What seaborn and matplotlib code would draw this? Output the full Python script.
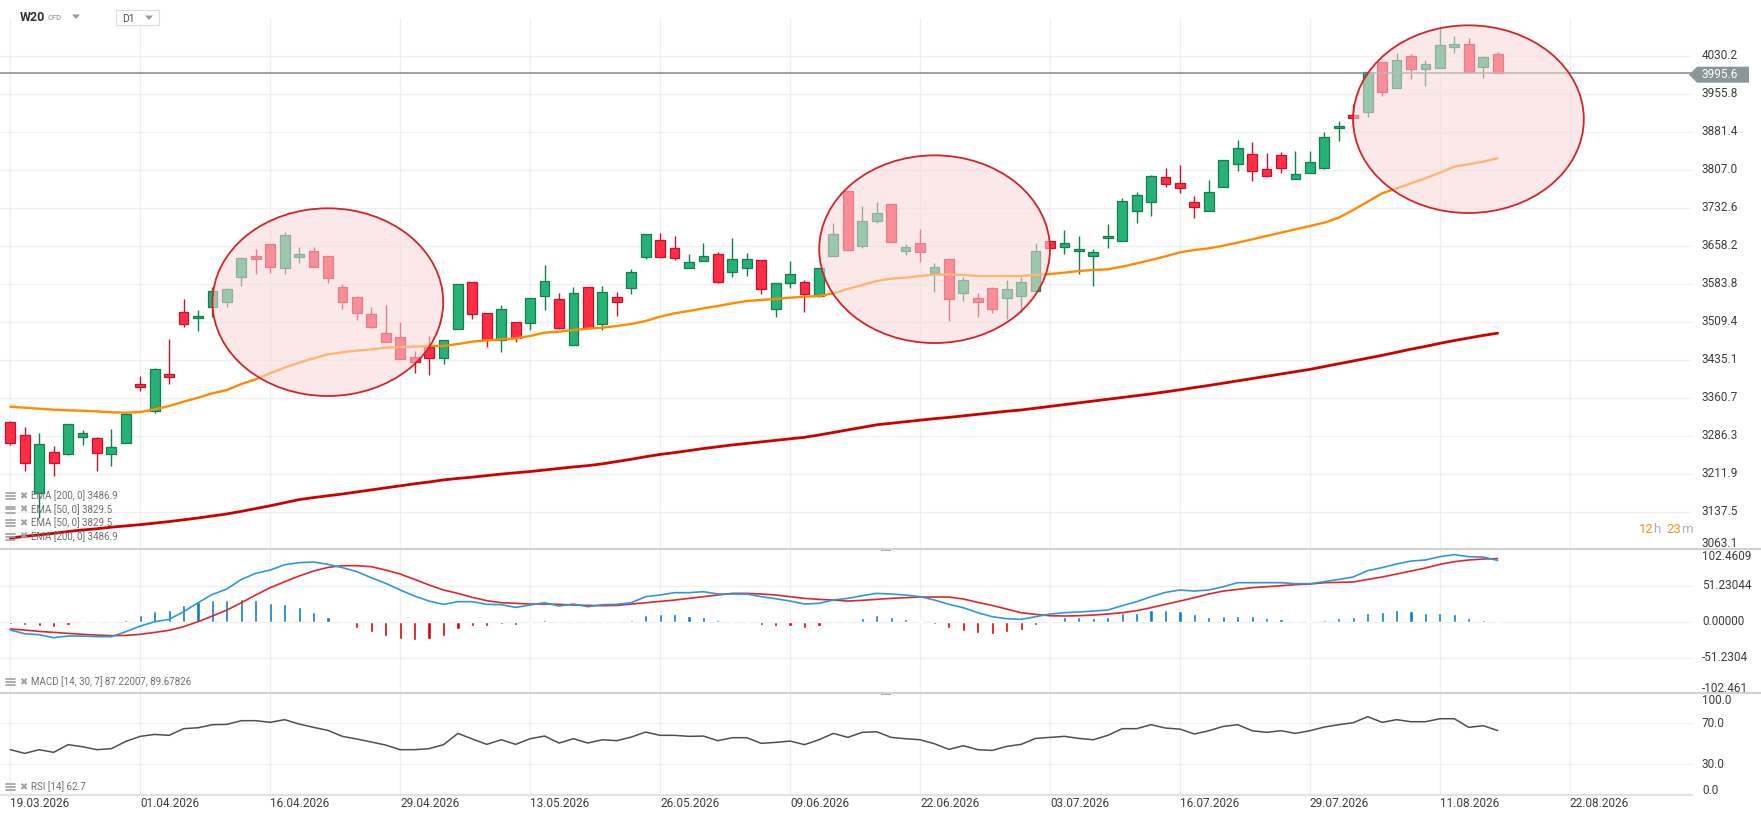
import numpy as np
import matplotlib
matplotlib.use("Agg")
import matplotlib.pyplot as plt
import seaborn as sns
from matplotlib.patches import Ellipse, Polygon, Rectangle
from matplotlib.lines import Line2D

# ---------------- data ----------------
opens = [3313.6, 3286.9, 3173.3, 3253.6, 3249.6, 3282.9, 3281.0, 3249.6, 3272.5, 3386.7,
         3334.5, 3406.3, 3527.7, 3515.9, 3538.8, 3548.6, 3597.5, 3638.0, 3660.8, 3615.2,
         3636.7, 3647.1, 3637.3, 3576.6, 3557.1, 3523.8, 3486.6, 3478.7, 3439.6, 3460.5,
         3437.6, 3494.4, 3587.7, 3525.7, 3473.5, 3509.4, 3506.2, 3559.7, 3553.2, 3463.7,
         3576.6, 3504.2, 3557.1, 3574.7, 3636.7, 3669.3, 3653.0, 3613.8, 3628.9, 3641.3,
         3607.3, 3613.8, 3629.5, 3533.6, 3584.5, 3586.4, 3559.7, 3638.6, 3765.3, 3658.2,
         3707.2, 3739.2, 3648.4, 3662.8, 3605.4, 3631.5, 3566.2, 3555.1, 3574.7, 3555.1,
         3559.7, 3570.1, 3666.7, 3655.0, 3647.8, 3637.3, 3672.6, 3666.7, 3726.1, 3743.1,
         3792.0, 3781.6, 3743.1, 3726.8, 3772.5, 3817.5, 3837.1, 3807.7, 3835.1, 3788.1,
         3801.2, 3811.0, 3888.0, 3913.4, 3920.6, 4017.2, 3967.6, 4029.0, 4003.5, 4005.5,
         4046.6, 4052.5, 4007.4, 4032.9]
highs = [3315.6, 3302.5, 3290.8, 3265.9, 3309.0, 3297.3, 3284.2, 3298.6, 3329.9, 3403.0,
         3418.0, 3475.5, 3553.8, 3532.3, 3577.9, 3574.7, 3633.4, 3651.0, 3660.8, 3684.4,
         3655.0, 3655.0, 3637.3, 3583.2, 3559.7, 3537.5, 3542.0, 3508.1, 3452.0, 3481.3,
         3472.9, 3582.5, 3587.7, 3525.7, 3542.0, 3509.4, 3555.1, 3620.4, 3564.9, 3576.6,
         3576.6, 3579.2, 3566.9, 3611.9, 3680.4, 3682.4, 3677.2, 3641.3, 3662.8, 3645.2,
         3673.2, 3643.2, 3629.5, 3584.5, 3628.2, 3591.0, 3613.8, 3702.0, 3765.3, 3735.9,
         3743.7, 3739.2, 3660.8, 3690.9, 3624.9, 3633.4, 3597.5, 3564.9, 3577.9, 3591.0,
         3597.5, 3662.8, 3666.7, 3688.9, 3677.2, 3651.7, 3700.7, 3750.9, 3763.3, 3796.6,
         3809.7, 3816.2, 3755.5, 3786.8, 3825.3, 3865.1, 3860.6, 3839.0, 3841.0, 3843.6,
         3843.6, 3880.1, 3902.3, 3935.0, 3998.3, 4017.2, 4034.8, 4033.5, 4021.8, 4083.8,
         4068.8, 4064.2, 4029.6, 4036.8]
lows = [3267.9, 3217.7, 3124.3, 3207.2, 3249.0, 3267.9, 3217.7, 3227.5, 3271.2, 3374.3,
        3329.9, 3387.4, 3499.6, 3491.1, 3517.9, 3538.8, 3579.2, 3602.7, 3605.4, 3602.7,
        3624.9, 3617.1, 3585.8, 3534.2, 3512.7, 3496.4, 3470.3, 3435.7, 3409.6, 3405.0,
        3425.9, 3494.4, 3514.6, 3460.5, 3450.7, 3470.3, 3493.1, 3532.3, 3494.4, 3463.7,
        3497.7, 3493.1, 3521.2, 3563.6, 3631.5, 3636.7, 3630.2, 3613.8, 3628.9, 3584.5,
        3597.5, 3599.5, 3563.6, 3519.2, 3574.7, 3529.0, 3557.1, 3638.6, 3649.7, 3654.3,
        3703.3, 3664.8, 3640.0, 3626.9, 3568.2, 3511.4, 3549.9, 3519.2, 3527.0, 3514.6,
        3529.0, 3570.1, 3653.0, 3641.9, 3602.7, 3579.2, 3654.3, 3666.7, 3703.3, 3717.0,
        3773.8, 3760.7, 3713.0, 3726.8, 3772.5, 3805.1, 3785.5, 3792.0, 3799.9, 3788.1,
        3801.2, 3807.7, 3863.8, 3891.2, 3910.8, 3952.0, 3966.3, 3984.6, 3971.5, 4005.5,
        4034.8, 3997.0, 3987.2, 3995.6]
closes = [3272.5, 3233.3, 3269.2, 3232.0, 3308.4, 3290.8, 3251.6, 3263.3, 3328.0, 3382.1,
          3416.1, 3401.7, 3504.2, 3520.5, 3568.8, 3572.8, 3633.4, 3631.5, 3617.1, 3678.5,
          3641.3, 3617.1, 3594.3, 3548.6, 3527.0, 3499.6, 3470.3, 3435.7, 3431.1, 3438.9,
          3472.9, 3582.5, 3523.8, 3473.5, 3533.6, 3478.1, 3555.1, 3589.7, 3497.7, 3564.9,
          3497.7, 3566.9, 3548.6, 3606.0, 3680.4, 3636.7, 3634.7, 3625.6, 3637.3, 3587.7,
          3631.5, 3631.5, 3572.7, 3584.5, 3602.1, 3563.0, 3613.8, 3680.4, 3649.7, 3706.5,
          3721.5, 3664.8, 3656.3, 3645.2, 3615.8, 3553.2, 3590.4, 3547.3, 3533.6, 3572.7,
          3586.4, 3647.1, 3653.0, 3662.8, 3651.7, 3645.2, 3676.5, 3745.0, 3756.8, 3794.0,
          3778.3, 3770.5, 3734.6, 3762.7, 3825.3, 3848.8, 3805.1, 3795.3, 3809.7, 3797.9,
          3822.7, 3870.3, 3891.9, 3907.6, 3998.3, 3959.8, 4021.1, 4003.5, 4013.3, 4050.5,
          4053.1, 3998.9, 4027.0, 3995.6]

ema50 = [3343.0, 3341.0, 3339.0, 3337.1, 3335.8, 3335.1, 3333.8, 3331.9, 3331.2, 3332.5,
         3337.7, 3344.3, 3352.8, 3360.6, 3369.1, 3375.6, 3387.4, 3396.5, 3408.3, 3419.4,
         3429.2, 3437.6, 3445.5, 3449.4, 3452.7, 3455.2, 3458.5, 3459.8, 3460.5, 3461.8,
         3461.8, 3465.7, 3470.3, 3472.9, 3474.8, 3476.8, 3481.4, 3487.9, 3489.8, 3493.1,
         3495.7, 3497.7, 3500.9, 3504.9, 3510.7, 3519.2, 3525.7, 3530.3, 3535.5, 3540.1,
         3545.3, 3549.9, 3551.9, 3553.8, 3556.4, 3558.4, 3559.7, 3564.9, 3573.4, 3581.2,
         3589.0, 3593.6, 3595.6, 3598.8, 3601.4, 3602.1, 3600.8, 3598.8, 3598.8, 3598.8,
         3598.8, 3600.8, 3602.7, 3605.4, 3608.6, 3610.6, 3611.9, 3617.1, 3623.6, 3630.2,
         3637.3, 3645.2, 3649.7, 3653.0, 3658.2, 3664.1, 3670.6, 3677.2, 3683.7, 3690.2,
         3696.8, 3703.3, 3713.1, 3728.1, 3744.4, 3760.7, 3770.5, 3780.3, 3790.1, 3801.2,
         3812.9, 3817.5, 3822.7, 3829.5]
ema200 = [3085.9, 3089.0, 3092.0, 3095.0, 3098.5, 3101.5, 3104.0, 3107.0, 3109.5, 3112.0,
          3115.0, 3118.0, 3121.5, 3125.0, 3129.0, 3133.0, 3138.0, 3143.5, 3149.0, 3155.0,
          3161.0, 3165.0, 3168.5, 3172.0, 3176.0, 3180.0, 3184.0, 3188.0, 3192.0, 3195.5,
          3199.5, 3202.5, 3205.0, 3208.0, 3211.0, 3213.5, 3216.0, 3219.0, 3222.0, 3225.0,
          3227.5, 3231.0, 3235.5, 3240.0, 3245.0, 3249.5, 3253.0, 3257.0, 3261.0, 3264.5,
          3268.0, 3271.0, 3274.0, 3277.0, 3280.0, 3283.0, 3287.5, 3292.5, 3297.5, 3302.5,
          3307.5, 3310.5, 3313.5, 3316.5, 3319.5, 3322.0, 3325.0, 3328.0, 3331.0, 3334.0,
          3336.5, 3340.0, 3343.5, 3347.0, 3350.5, 3354.0, 3357.5, 3361.0, 3364.5, 3368.0,
          3372.0, 3376.0, 3380.5, 3384.5, 3389.0, 3393.5, 3398.0, 3402.5, 3407.0, 3411.5,
          3416.0, 3421.5, 3427.0, 3432.5, 3438.0, 3443.5, 3449.5, 3455.5, 3461.0, 3467.0,
          3472.5, 3477.5, 3482.5, 3486.9]

macd_line = [-11.9, -17.1, -18.5, -22.8, -20.4, -20.4, -21.3, -21.3, -14.2, -6.2,
             0.0, 3.3, 14.2, 27.0, 38.9, 46.5, 60.2, 68.8, 73.5, 81.1,
             84.0, 84.9, 81.6, 76.9, 71.2, 62.6, 54.6, 45.1, 36.5, 29.4,
             24.7, 28.5, 28.5, 24.7, 24.2, 20.4, 23.7, 27.0, 22.3, 25.1,
             21.3, 24.2, 24.7, 27.0, 35.6, 38.0, 41.3, 41.3, 42.7, 39.4,
             39.4, 39.4, 35.6, 32.7, 29.4, 25.1, 26.1, 30.8, 33.2, 37.0,
             40.3, 39.4, 38.0, 35.6, 30.8, 24.7, 19.9, 12.8, 7.1, 4.3,
             3.3, 7.1, 10.9, 12.8, 13.8, 15.2, 16.6, 22.8, 28.5, 35.6,
             41.7, 45.1, 43.6, 45.1, 49.8, 55.5, 55.5, 55.5, 55.5, 54.1,
             54.1, 56.9, 60.2, 63.6, 72.6, 76.9, 82.1, 86.3, 87.8, 92.5,
             95.4, 92.5, 92.0, 87.2]
macd_signal = [-10.4, -11.9, -13.8, -15.2, -16.6, -18.0, -19.0, -19.9, -19.5, -18.0,
               -15.2, -12.3, -7.1, 0.0, 8.1, 16.6, 27.0, 38.0, 48.4, 56.9,
               65.0, 72.1, 77.3, 79.7, 79.7, 78.3, 73.5, 67.8, 60.2, 52.2,
               45.1, 40.3, 34.6, 29.9, 27.0, 26.1, 25.1, 25.1, 24.7, 23.7,
               23.2, 22.8, 23.2, 25.1, 27.0, 28.9, 30.8, 33.2, 35.6, 38.0,
               40.3, 40.3, 39.4, 38.0, 35.6, 33.2, 31.8, 30.8, 29.4, 30.4,
               31.8, 33.2, 34.2, 35.1, 35.1, 35.1, 32.3, 27.5, 23.2, 18.0,
               12.8, 10.4, 8.5, 8.1, 8.5, 9.5, 10.9, 12.8, 15.7, 19.9,
               24.7, 29.4, 34.2, 39.4, 43.6, 46.0, 48.4, 49.8, 51.2, 52.7,
               53.6, 55.5, 56.0, 56.5, 60.2, 63.6, 67.8, 72.1, 76.4, 81.6,
               85.4, 87.8, 89.2, 89.7]
macd_hist = [-3.8, -4.7, -5.7, -7.1, -4.3, -1.9, -1.4, -1.4, 2.4, 9.5,
             15.7, 16.6, 23.7, 28.5, 30.8, 30.8, 32.3, 30.8, 27.0, 25.1,
             21.3, 14.2, 6.2, -1.4, -8.5, -14.2, -19.9, -24.2, -26.1, -24.2,
             -20.4, -10.4, -6.2, -5.7, -3.3, -4.3, -1.4, 2.4, -0.5, 1.0,
             -1.0, 1.0, 0.5, 2.4, 9.5, 10.9, 10.9, 8.1, 6.2, 2.4,
             1.0, 0.3, -4.7, -6.2, -6.2, -8.5, -6.2, -0.3, 1.0, 4.7,
             9.5, 6.2, 3.3, 1.0, -3.8, -9.5, -12.8, -15.7, -17.6, -14.2,
             -11.9, -4.7, 1.0, 6.2, 7.1, 5.7, 7.1, 11.9, 12.8, 16.6,
             17.1, 15.2, 10.9, 7.1, 8.5, 8.1, 8.1, 5.2, 3.8, 1.0,
             0.3, 2.4, 4.7, 6.2, 11.9, 13.3, 16.6, 15.2, 12.8, 12.8,
             10.9, 5.2, 2.4, -1.4]
rsi = [44.0, 40.4, 44.0, 41.4, 48.9, 46.9, 44.0, 45.0, 52.1, 57.0,
       58.9, 58.0, 64.5, 65.4, 68.4, 68.7, 72.3, 72.3, 70.7, 73.3,
       69.0, 65.8, 62.8, 57.0, 54.4, 51.5, 48.5, 44.0, 44.0, 45.0,
       48.9, 59.9, 54.4, 49.2, 53.7, 49.2, 54.7, 57.3, 50.5, 54.7,
       50.5, 53.7, 52.8, 56.3, 61.2, 58.0, 58.0, 57.0, 57.3, 52.8,
       55.7, 55.7, 50.2, 51.1, 52.4, 48.9, 53.7, 59.9, 56.0, 60.9,
       61.5, 56.0, 54.7, 53.7, 49.8, 44.3, 47.9, 44.0, 43.3, 47.2,
       49.2, 55.0, 56.0, 57.0, 55.0, 53.7, 58.0, 64.5, 64.5, 68.4,
       65.1, 64.1, 59.3, 62.5, 66.7, 68.4, 62.5, 60.9, 62.5, 59.9,
       62.5, 66.1, 68.4, 70.3, 76.2, 70.7, 73.3, 71.3, 71.3, 74.2,
       74.2, 65.8, 67.4, 62.7]

date_positions = [0, 9, 18, 27, 36, 45, 54, 63, 72, 81, 90, 99, 108]
date_labels = ["19.03.2026", "01.04.2026", "16.04.2026", "29.04.2026", "13.05.2026",
               "26.05.2026", "09.06.2026", "22.06.2026", "03.07.2026", "16.07.2026",
               "29.07.2026", "11.08.2026", "22.08.2026"]
price_ticks = [4030.2, 3955.8, 3881.4, 3807.0, 3732.6, 3658.2, 3583.8, 3509.4,
               3435.1, 3360.7, 3286.3, 3211.9, 3137.5]
price_tick_labels = ["4030.2", "3955.8", "3881.4", "3807.0", "3732.6", "3658.2", "3583.8",
                     "3509.4", "3435.1", "3360.7", "3286.3", "3211.9", "3137.5"]
price_bottom_label = "3063.1"
last_price = 3995.6
macd_ticks = [51.23044, 0.0, -51.2304]
macd_tick_labels = ["51.23044", "0.00000", "-51.2304"]
macd_edge_labels = ["102.4609", "-102.461"]
rsi_ticks = [70.0, 30.0]
rsi_tick_labels = ["70.0", "30.0"]
rsi_edge_labels = ["100.0", "0.0"]
legend_lines = ["EMA [200, 0] 3486.9", "EMA [50, 0] 3829.5",
                "EMA [50, 0] 3829.5", "EMA [200, 0] 3486.9"]
macd_legend = "MACD [14, 30, 7] 87.22007, 89.67826"
rsi_legend = "RSI [14] 62.7"
# highlight ellipses: (center index, center price, width in candles, height in price)
highlights = [(21.99, 3547.6, 15.98, 367.5),
              (64.01, 3651.3, 15.98, 367.5),
              (100.98, 3905.9, 15.98, 367.5)]

# ---------------- figure ----------------
sns.set_style("white")
plt.rcParams["font.family"] = ["Roboto", "DejaVu Sans"]

W, H = 1761, 821
fig = plt.figure(figsize=(W / 100, H / 100), dpi=100)
fig.patch.set_facecolor("white")


def fx(px):
    return px / W


def fy(py):
    return 1 - py / H


X0, DX = 10.3, 14.44
AXR = 1692
XLIM = (-X0 / DX, (AXR - X0) / DX)

ax_p = fig.add_axes([0, fy(549), AXR / W, (549 - 18) / H])
ax_m = fig.add_axes([0, fy(693), AXR / W, (693 - 549) / H])
ax_r = fig.add_axes([0, fy(795), AXR / W, (795 - 693) / H])

GRID = "#f0f0f0"
for ax in (ax_p, ax_m, ax_r):
    ax.set_xlim(*XLIM)
    ax.set_facecolor("none")
    for s in ax.spines.values():
        s.set_visible(False)
    ax.set_xticks(date_positions)
    ax.tick_params(length=0, labelbottom=False, labelleft=False)
    ax.grid(True, color=GRID, lw=1.0)
    ax.set_axisbelow(True)

# ---- price panel ----
PY0, PY1 = 3064.3, 4104.0
ax_p.set_ylim(PY0, PY1)
ax_p.set_yticks(price_ticks)

o = np.array(opens); c = np.array(closes); hi = np.array(highs); lo = np.array(lows)
idx = np.arange(len(o))
up = c >= o
GREEN_FILL, GREEN_EDGE = "#26b276", "#137e4e"
RED_FILL, RED_EDGE = "#ff2e45", "#c2142c"
fills = np.where(up, GREEN_FILL, RED_FILL)
edges = np.where(up, GREEN_EDGE, RED_EDGE)
ax_p.vlines(idx, lo, hi, colors=edges, lw=1.0, zorder=2)
body_b = np.minimum(o, c)
body_h = np.maximum(np.abs(c - o), 2.5)
ax_p.bar(idx, body_h, bottom=body_b, width=0.68, color=fills, edgecolor=edges,
         linewidth=0.9, zorder=3)

sns.lineplot(x=idx, y=ema200, ax=ax_p, color="#cc0000", lw=2.0, zorder=4, legend=False)
sns.lineplot(x=idx, y=ema50, ax=ax_p, color="#ff8c00", lw=1.7, zorder=4, legend=False)

ax_p.axhline(last_price, color="#7f8b8f", lw=1.1, zorder=4.5)

for cx, cy, w, h in highlights:
    ax_p.add_patch(Ellipse((cx, cy), w, h, facecolor=(0.973, 0.847, 0.847, 0.56),
                           edgecolor="#d3242b", lw=1.3, zorder=5))

LBL = dict(fontsize=8.5, color="#3d3d3d", ha="left", va="center")
XL = 1702 / AXR
for v, t in zip(price_ticks, price_tick_labels):
    ax_p.text(XL, v, t, transform=ax_p.get_yaxis_transform(), **LBL)
fig.text(fx(1702), fy(543), price_bottom_label, **LBL)

# last price tag
tag = Polygon([(fx(1689), fy(74.7)), (fx(1697), fy(66.7)), (fx(1749), fy(66.7)),
               (fx(1749), fy(82.7)), (fx(1697), fy(82.7))], closed=True,
              transform=fig.transFigure, facecolor="#8b969a", edgecolor="none", zorder=10)
fig.add_artist(tag)
fig.text(fx(1701), fy(74.7), f"{last_price:.1f}", fontsize=8.5, color="white",
         ha="left", va="center", zorder=11)

# countdown
for px, t, col in [(1639, "12", "#f7931e"), (1653, "h", "#b0b0b0"),
                   (1666, "23", "#f7931e"), (1681, "m", "#b0b0b0")]:
    fig.text(fx(px), fy(529), t, fontsize=9.5, color=col, ha="left", va="center")


def legend_icon(py):
    for dy in (-3, 0, 3):
        fig.add_artist(Line2D([fx(6), fx(15)], [fy(py + dy)] * 2, color="#a0a0a0",
                              lw=1.2, transform=fig.transFigure))
    fig.text(fx(19), fy(py), "\u2716", fontsize=7, color="#a0a0a0", ha="left",
             va="center", family=["DejaVu Sans"])


for py, t in zip([496, 509.5, 523, 536.5], legend_lines):
    legend_icon(py)
    fig.text(fx(31), fy(py), t, fontsize=7.0, color="#6e6e6e", ha="left", va="center")

# ---- MACD panel ----
MPX = 1.423  # value per pixel
ax_m.set_ylim(-(693 - 621.7) * MPX, (621.7 - 549) * MPX)
ax_m.set_yticks(macd_ticks)
hist = np.array(macd_hist)
ax_m.bar(idx, hist, width=0.22, color=np.where(hist >= 0, "#0b7cc6", "#dd0000"), zorder=2)
sns.lineplot(x=idx, y=macd_signal, ax=ax_m, color="#e0262a", lw=1.2, zorder=3, legend=False)
sns.lineplot(x=idx, y=macd_line, ax=ax_m, color="#2f98dc", lw=1.2, zorder=3, legend=False)
for v, t in zip(macd_ticks, macd_tick_labels):
    ax_m.text(XL, v, t, transform=ax_m.get_yaxis_transform(), **LBL)
fig.text(fx(1702), fy(556), macd_edge_labels[0], **LBL)
fig.text(fx(1702), fy(688), macd_edge_labels[1], **LBL)
legend_icon(682)
fig.text(fx(31), fy(682), macd_legend, fontsize=7.0, color="#6e6e6e", ha="left", va="center")

# ---- RSI panel ----
ax_r.set_ylim(-0.2, 99.3)
ax_r.set_yticks(rsi_ticks)
sns.lineplot(x=idx, y=rsi, ax=ax_r, color="#4f4f4f", lw=1.1, zorder=3, legend=False)
for v, t in zip(rsi_ticks, rsi_tick_labels):
    ax_r.text(XL, v, t, transform=ax_r.get_yaxis_transform(), **LBL)
fig.text(fx(1702), fy(700), rsi_edge_labels[0], **LBL)
fig.text(fx(1702), fy(790), rsi_edge_labels[1], **LBL)
legend_icon(787)
fig.text(fx(31), fy(787), rsi_legend, fontsize=7.0, color="#6e6e6e", ha="left", va="center")

# date labels
for p, t in zip(date_positions, date_labels):
    ax_r.text(p, (795 - 803.5) / 102, t, transform=ax_r.get_xaxis_transform(),
              fontsize=8.5, color="#3d3d3d", ha="left", va="center")

# panel separators
for py, x1, col in [(549, 1.0, "#d2d2d2"), (693, 1.0, "#d2d2d2"), (795, AXR / W, "#e2e2e2")]:
    fig.add_artist(Line2D([0, x1], [fy(py)] * 2, color=col, lw=1.6,
                          transform=fig.transFigure))
for py in (549, 693):
    fig.add_artist(Rectangle((fx(881), fy(py + 1.5)), 10 / W, 3 / H, transform=fig.transFigure,
                             facecolor="#a8a8a8", edgecolor="none"))

# header
fig.text(fx(20), fy(17.5), "W20", fontsize=9, weight="bold", color="#333333",
         ha="left", va="center")
fig.text(fx(48), fy(18.5), "CFD", fontsize=5.5, color="#8a8a8a", ha="left", va="center")
fig.add_artist(Polygon([(fx(72), fy(14.5)), (fx(80), fy(14.5)), (fx(76), fy(19))],
                       closed=True, transform=fig.transFigure, facecolor="#9a9a9a",
                       edgecolor="none"))
fig.add_artist(Rectangle((fx(116), fy(25.5)), 43 / W, 15 / H, transform=fig.transFigure,
                         facecolor="white", edgecolor="#dcdcdc", lw=0.8))
fig.text(fx(122), fy(19), "D1", fontsize=7.5, color="#4a4a4a", ha="left", va="center")
fig.add_artist(Polygon([(fx(145), fy(15.5)), (fx(153), fy(15.5)), (fx(149), fy(20))],
                       closed=True, transform=fig.transFigure, facecolor="#9a9a9a",
                       edgecolor="none"))

fig.savefig("out.png", dpi=100, facecolor="white")
